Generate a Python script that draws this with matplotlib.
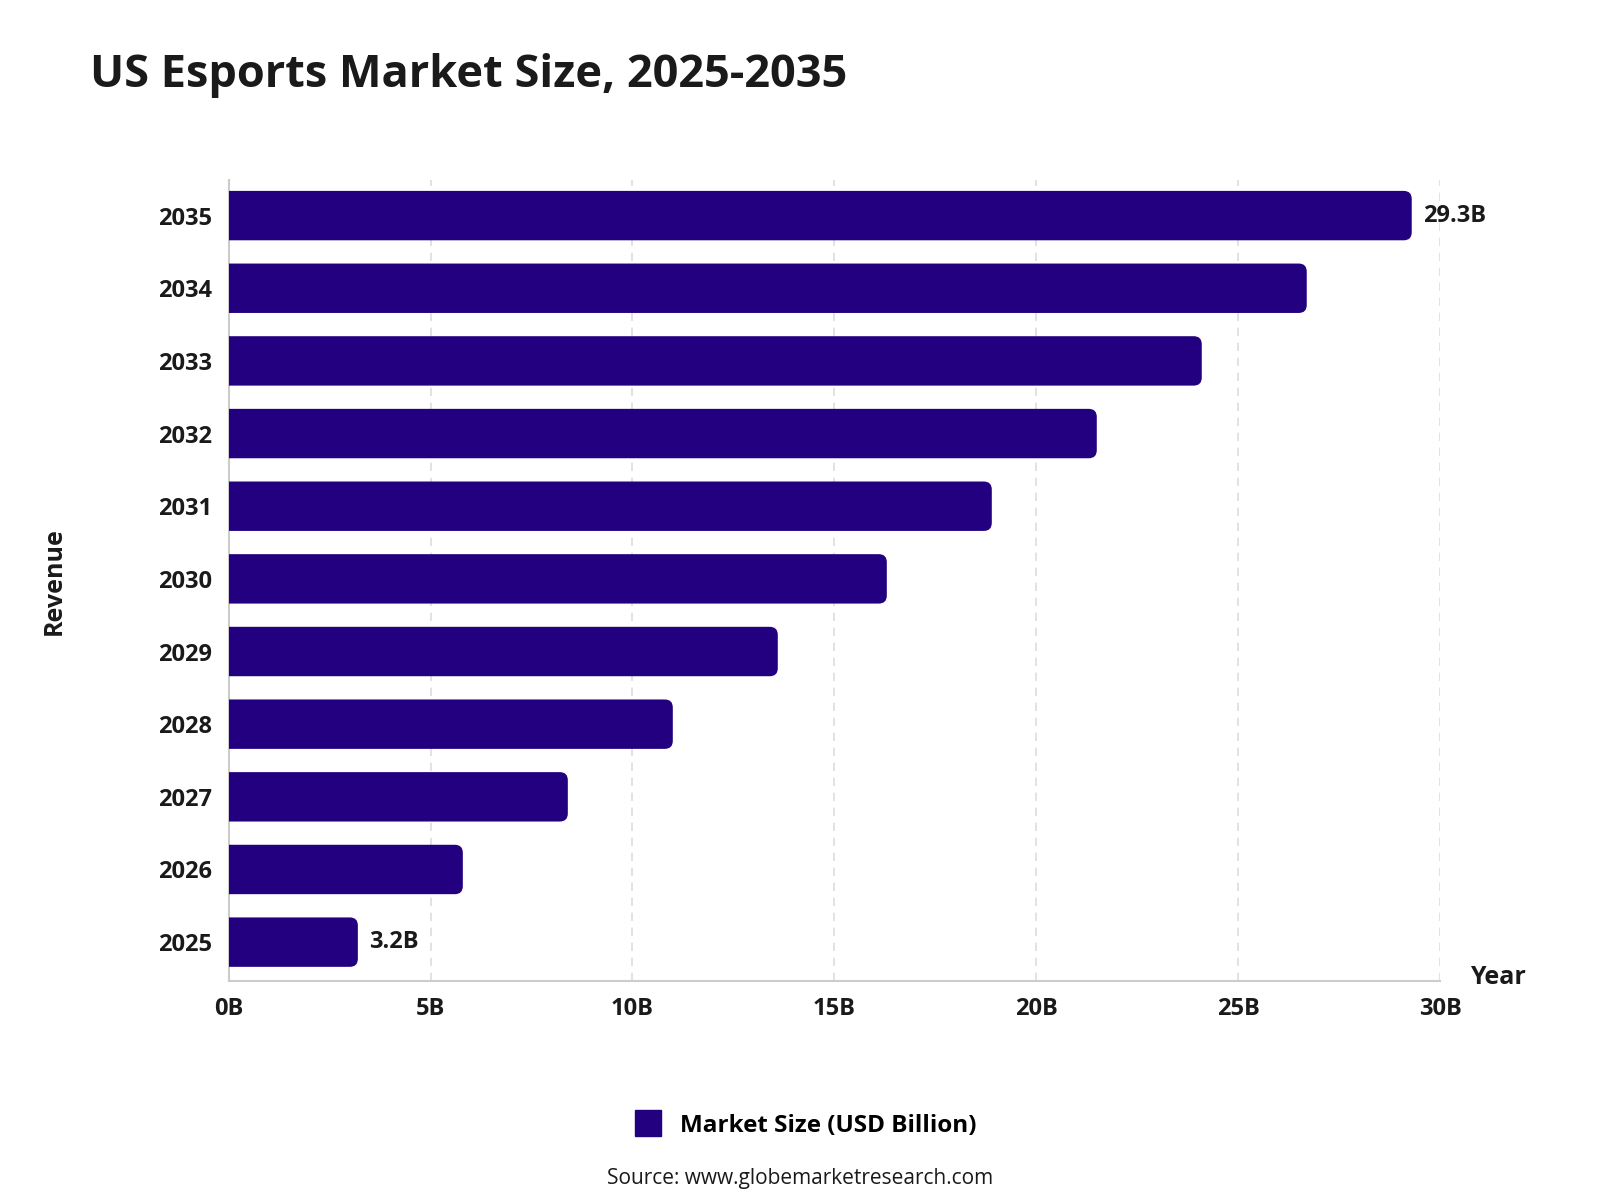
import matplotlib
matplotlib.use("Agg")
import matplotlib.pyplot as plt
from matplotlib.patches import FancyBboxPatch
from matplotlib.lines import Line2D
from matplotlib import font_manager as fm
import os

years = ["2025", "2026", "2027", "2028", "2029", "2030", "2031", "2032", "2033", "2034", "2035"]
values = [3.2, 5.8, 8.4, 11.0, 13.6, 16.3, 18.9, 21.5, 24.1, 26.7, 29.3]
xticks = [0, 5, 10, 15, 20, 25, 30]
xtick_labels = ["0B", "5B", "10B", "15B", "20B", "25B", "30B"]
labeled = {"2025": "3.2B", "2035": "29.3B"}

family = "DejaVu Sans"
for fam in ["Open Sans", "Noto Sans", "Lato", "Inter", "Roboto", "Liberation Sans"]:
    try:
        path = fm.findfont(fm.FontProperties(family=fam, weight="bold"), fallback_to_default=False)
        name = os.path.basename(path).lower()
        if "bold" in name or "black" in name or "semibold" in name:
            family = fam
            break
    except Exception:
        pass

plt.rcParams['font.family'] = [family, 'DejaVu Sans']
BAR = "#22007F"
TXT = "#1a1a1a"

fig = plt.figure(figsize=(16, 12), dpi=100)
ax = fig.add_axes([0.1429, 0.1828, 0.7571, 0.6672])

bars = ax.barh(range(len(years)), values, height=0.68, color=BAR)
ax.set_xlim(0, 30)
ax.set_ylim(-0.53, 10.49)

# replace with rounded bars
fig.canvas.draw()
bbox = ax.get_window_extent()
px_per_x = bbox.width / 30.0
px_per_y = bbox.height / (10.49 + 0.53)
aspect = px_per_x / px_per_y
rx = 8 / px_per_x
for b in bars:
    b.set_visible(False)
    x0, y0, w, h = b.get_x(), b.get_y(), b.get_width(), b.get_height()
    p = FancyBboxPatch((x0 - rx * 2, y0), w + rx * 2, h,
                       boxstyle=f"round,pad=0,rounding_size={rx}",
                       mutation_aspect=aspect,
                       facecolor=BAR, edgecolor="none", clip_on=True, zorder=3)
    ax.add_patch(p)

for i, (yr, v) in enumerate(zip(years, values)):
    if yr in labeled:
        ax.text(v + 0.28, i, labeled[yr], va="center", ha="left",
                fontsize=17, fontweight="bold", color=TXT, zorder=4)

ax.set_xticks(xticks)
ax.set_xticklabels(xtick_labels, fontsize=17, fontweight="bold", color=TXT)
ax.set_yticks(range(len(years)))
ax.set_yticklabels(years, fontsize=17, fontweight="bold", color=TXT)
ax.tick_params(axis="both", length=0)
ax.tick_params(axis="x", pad=12)
ax.tick_params(axis="y", pad=12)

ax.grid(axis="x", color="#dddddd", linestyle=(0, (5, 4)), linewidth=1.2, zorder=0)
ax.set_axisbelow(True)
for s in ["top", "right"]:
    ax.spines[s].set_visible(False)
for s in ["left", "bottom"]:
    ax.spines[s].set_color("#cccccc")
    ax.spines[s].set_linewidth(1.5)

fig.text(0.0563, 0.937, "US Esports Market Size, 2025-2035", fontsize=32.5,
         fontweight="bold", color=TXT, ha="left", va="center")
fig.text(0.034, 0.516, "Revenue", rotation=90, fontsize=18, fontweight="bold",
         color=TXT, ha="center", va="center")
fig.text(0.936, 0.185, "Year", fontsize=18, fontweight="bold", color=TXT,
         ha="center", va="center")

handle = Line2D([], [], marker="s", linestyle="none", markersize=19,
                markerfacecolor=BAR, markeredgecolor=BAR)
fig.legend([handle], ["Market Size (USD Billion)"], loc="center",
           bbox_to_anchor=(0.5, 0.062), frameon=False,
           prop={"size": 17.5, "weight": "bold"}, handletextpad=0.3)
fig.text(0.5, 0.018, "Source: www.globemarketresearch.com", fontsize=15,
         color=TXT, ha="center", va="center")

fig.savefig("out.png", dpi=100, facecolor="white")
